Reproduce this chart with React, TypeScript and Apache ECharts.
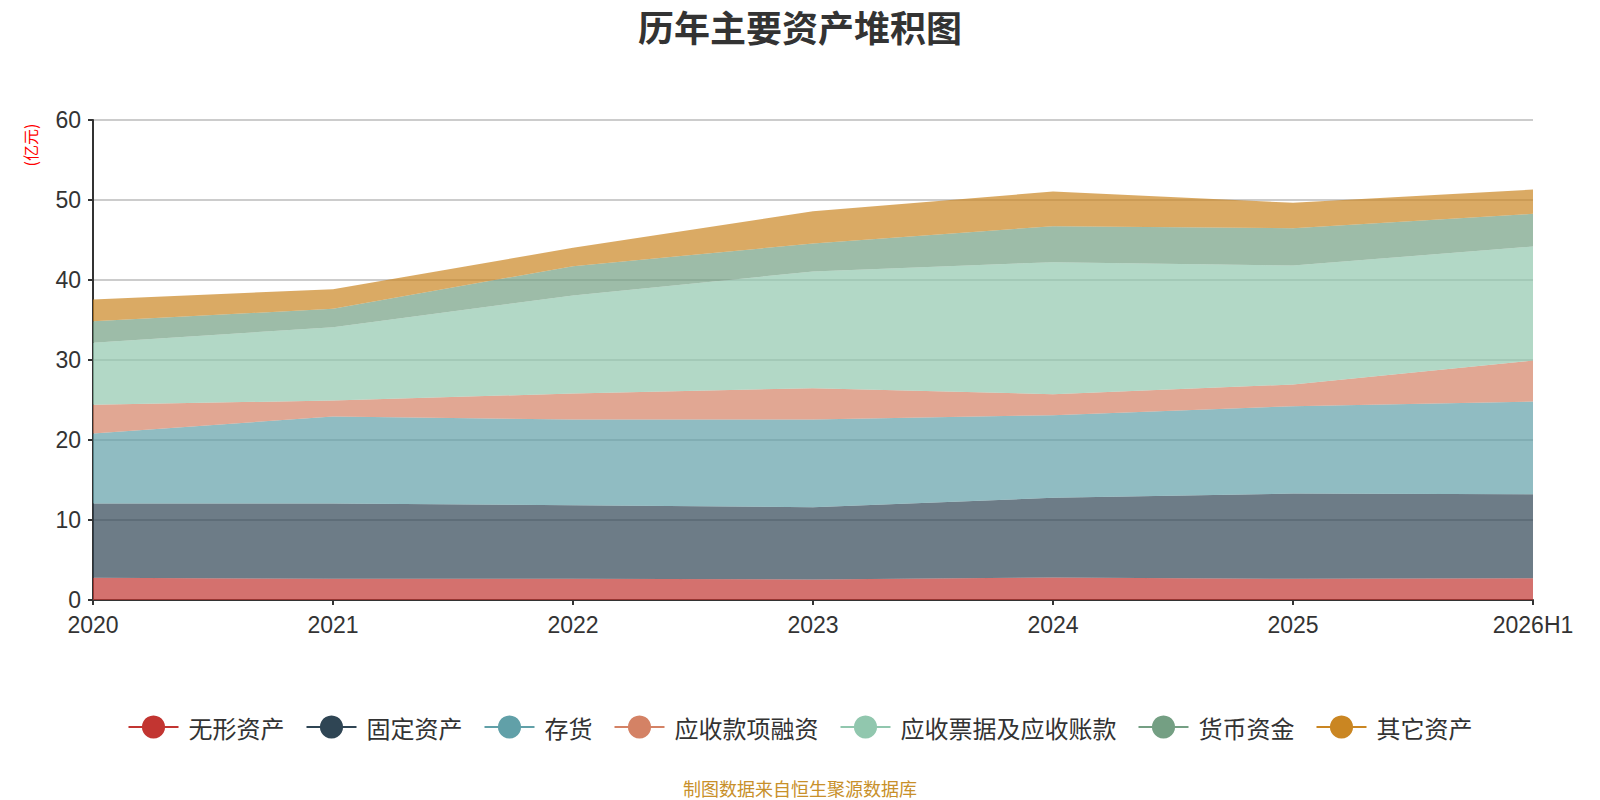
import React, { useEffect, useRef } from "react";
import * as echarts from "echarts";

const categories = ["2020", "2021", "2022", "2023", "2024", "2025", "2026H1"];
const seriesNames = ["无形资产", "固定资产", "存货", "应收款项融资", "应收票据及应收账款", "货币资金", "其它资产"];
const intangible = [2.77, 2.65, 2.65, 2.56, 2.81, 2.65, 2.73];
const fixedAssets = [9.29, 9.41, 9.2, 9.04, 9.96, 10.66, 10.5];
const inventory = [8.75, 10.88, 10.71, 10.96, 10.33, 10.92, 11.58];
const receivablesFinancing = [3.59, 2.0, 3.25, 3.92, 2.63, 2.71, 5.13];
const notesAndAccounts = [7.75, 9.16, 12.25, 14.58, 16.5, 14.87, 14.25];
const cash = [2.7, 2.3, 3.67, 3.5, 4.5, 4.67, 4.08];
const otherAssets = [2.71, 2.45, 2.29, 4.04, 4.33, 3.17, 3.04];
const yTicks = [0, 10, 20, 30, 40, 50, 60];

const colors = ["#c23531", "#2f4554", "#61a0a8", "#d48265", "#91c7ae", "#749f83", "#ca8622"];
const FONT = "'Noto Sans CJK SC', 'Noto Sans', sans-serif";
const NUM_FONT = "'Liberation Sans', 'Noto Sans', sans-serif";

export default function App() {
  const ref = useRef<HTMLDivElement>(null);
  useEffect(() => {
    document.body.style.margin = "0";
    if (!ref.current) return;
    const chart = echarts.init(ref.current, undefined, { renderer: "svg" });
    const dataSets = [intangible, fixedAssets, inventory, receivablesFinancing, notesAndAccounts, cash, otherAssets];
    chart.setOption({
      animation: false,
      color: colors,
      textStyle: { fontFamily: FONT },
      title: {
        text: "历年主要资产堆积图",
        left: "center",
        top: 3,
        textStyle: { fontSize: 36, fontWeight: "bold", color: "#333", fontFamily: FONT },
      },
      legend: {
        data: seriesNames,
        bottom: 56,
        left: "center",
        itemWidth: 50,
        itemHeight: 29,
        itemGap: 21,
        lineStyle: { width: 2, opacity: 1 },
        textStyle: { fontSize: 24, color: "#333", fontFamily: FONT, padding: [0, 0, 0, 5] },
      },
      grid: { left: 93, right: 67, top: 120, bottom: 200, containLabel: false },
      xAxis: {
        type: "category",
        data: categories,
        boundaryGap: false,
        axisLine: { lineStyle: { color: "#333", width: 2 } },
        axisTick: { show: true, alignWithLabel: true, lineStyle: { color: "#333", width: 2 } },
        axisLabel: { fontSize: 23, lineHeight: 23, color: "#333", margin: 13, fontFamily: NUM_FONT },
      },
      yAxis: {
        type: "value",
        min: yTicks[0],
        max: yTicks[yTicks.length - 1],
        interval: 10,
        axisLine: { show: true, lineStyle: { color: "#333", width: 2 } },
        axisTick: { show: true, lineStyle: { color: "#333", width: 2 } },
        axisLabel: {
          fontSize: 23,
          lineHeight: 23,
          color: "#333",
          margin: 12,
          padding: [0, 0, 5, 0],
          fontFamily: NUM_FONT,
        },
        splitLine: { show: true, lineStyle: { color: "#ccc", width: 2 } },
      },
      graphic: [
        {
          type: "text",
          x: 30,
          y: 145,
          rotation: Math.PI / 2,
          style: {
            text: "(亿元)",
            fill: "#ff0000",
            fontSize: 16,
            fontFamily: FONT,
            align: "center",
            verticalAlign: "middle",
          },
        },
        {
          type: "text",
          left: "center",
          top: 779,
          style: {
            text: "制图数据来自恒生聚源数据库",
            fill: "#c8902a",
            fontSize: 18,
            fontFamily: FONT,
          },
        },
      ],
      series: seriesNames.map((name, i) => ({
        name,
        type: "line",
        stack: "total",
        data: dataSets[i],
        symbol: "circle",
        showSymbol: false,
        lineStyle: { width: 0, opacity: 0 },
        areaStyle: { opacity: 0.7 },
        emphasis: { disabled: true },
      })),
    });
    return () => chart.dispose();
  }, []);
  return <div ref={ref} style={{ width: 1600, height: 800 }} />;
}
